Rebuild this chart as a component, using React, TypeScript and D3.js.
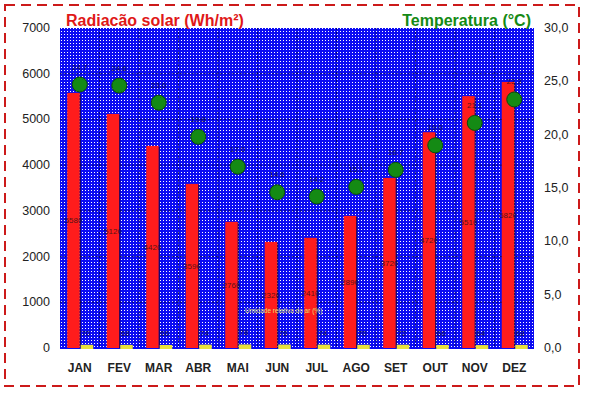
import * as d3 from 'd3'

const months = ['JAN', 'FEV', 'MAR', 'ABR', 'MAI', 'JUN', 'JUL', 'AGO', 'SET', 'OUT', 'NOV', 'DEZ']
// radiação solar (Wh/m²), eixo esquerdo
const radiacao = [5580, 5120, 4420, 3590, 2760, 2320, 2410, 2890, 3720, 4720, 5510, 5820]
// temperatura (°C), eixo direito
const temperatura = [24.7, 24.6, 23.0, 19.8, 17.0, 14.6, 14.2, 15.1, 16.7, 19.0, 21.1, 23.3]
// série amarela pequena junto à base
const umidade = [70, 68, 66, 74, 78, 76, 74, 70, 72, 66, 64, 68]
const leftTicks = [0, 1000, 2000, 3000, 4000, 5000, 6000, 7000]
const rightTicks = [0, 5, 10, 15, 20, 25, 30]

const App = () => {
    const width = 589
    const height = 399
    const plot = { left: 60, right: 534, top: 28, bottom: 348 }

    const x = d3.scaleBand<string>().domain(months).range([plot.left, plot.right])
    const yL = d3.scaleLinear().domain([0, 7000]).range([plot.bottom, plot.top])
    const yR = d3.scaleLinear().domain([0, 30]).range([plot.bottom, plot.top])
    const barW = 12.5
    const fmt = d3.format('.1f')
    const fmtR = (v: number) => fmt(v).replace('.', ',')

    return (
        <svg width={width} height={height} style={{ position: 'absolute', left: 0, top: 0 }}
            fontFamily="'Liberation Sans', Arial, sans-serif">
            <defs>
                <pattern id="dither" width={3} height={3} patternUnits="userSpaceOnUse">
                    <rect width={3} height={3} fill="#0c0cf2" />
                    <rect x={1} y={1} width={1} height={1} fill="#ffffff" />
                </pattern>
            </defs>
            <rect width={width} height={height} fill="#fff" />
            <rect x={5} y={5} width={574} height={381} fill="none" stroke="#cc1a1a"
                strokeWidth={2} strokeDasharray="10 6" />

            <rect x={plot.left} y={plot.top} width={plot.right - plot.left}
                height={plot.bottom - plot.top + 1} fill="url(#dither)" />

            {leftTicks.slice(1, -1).map(t => (
                <line key={t} x1={plot.left} x2={plot.right} y1={yL(t)} y2={yL(t)}
                    stroke="#000022" strokeOpacity={0.6} strokeDasharray="2 2" />
            ))}
            {months.slice(1).map(m => (
                <line key={m} x1={x(m)} x2={x(m)} y1={plot.top} y2={plot.bottom}
                    stroke="#000022" strokeOpacity={0.6} strokeDasharray="2 2" />
            ))}

            {months.map((m, i) => {
                const cx = x(m)! + x.bandwidth() / 2
                return (
                    <g key={m}>
                        <rect x={cx - barW} y={yL(radiacao[i])} width={barW}
                            height={plot.bottom - yL(radiacao[i])} fill="#ff1c1c" />
                        <line x1={cx + 0.5} x2={cx + 0.5} y1={yL(radiacao[i]) + 1} y2={plot.bottom}
                            stroke="#220000" strokeOpacity={0.7} />
                        <rect x={cx + 1} y={yL(umidade[i])} width={barW}
                            height={plot.bottom + 1 - yL(umidade[i])} fill="#e8e23c" />
                        <text x={cx - barW / 2} y={(yL(radiacao[i]) + plot.bottom) / 2 + 3}
                            fontSize={8} textAnchor="middle" fill="#111" fillOpacity={0.75}>
                            {radiacao[i]}
                        </text>
                        <text x={cx + barW / 2} y={yL(umidade[i]) - 9}
                            fontSize={8} textAnchor="middle" fill="#111" fillOpacity={0.75}>
                            {umidade[i]}
                        </text>
                        <circle cx={cx} cy={yR(temperatura[i])} r={7.5} fill="#148a14"
                            stroke="#0a4a0a" strokeWidth={1} />
                        <text x={cx} y={yR(temperatura[i]) - 15} fontSize={8}
                            textAnchor="middle" fill="#111" fillOpacity={0.75}>
                            {fmt(temperatura[i])}
                        </text>
                        <text x={cx} y={372} fontSize={12} fontWeight="bold"
                            textAnchor="middle" fill="#222">{m}</text>
                    </g>
                )
            })}

            <text x={245} y={313} fontSize={6.5} fill="#e8e070">Umidade relativa do ar (%)</text>

            {leftTicks.map(t => (
                <text key={t} x={50} y={yL(t) + 4} fontSize={12.5} textAnchor="end" fill="#222">{t}</text>
            ))}
            {rightTicks.map(t => (
                <text key={t} x={544} y={yR(t) + 4} fontSize={12.5} fill="#222">{fmtR(t)}</text>
            ))}

            <text x={66} y={26} fontSize={16} fill="#e01818" fontWeight="bold">Radiacão solar (Wh/m²)</text>
            <text x={531} y={26} fontSize={16} fill="#158a15" fontWeight="bold"
                textAnchor="end">Temperatura (°C)</text>
        </svg>
    )
}

export default App
